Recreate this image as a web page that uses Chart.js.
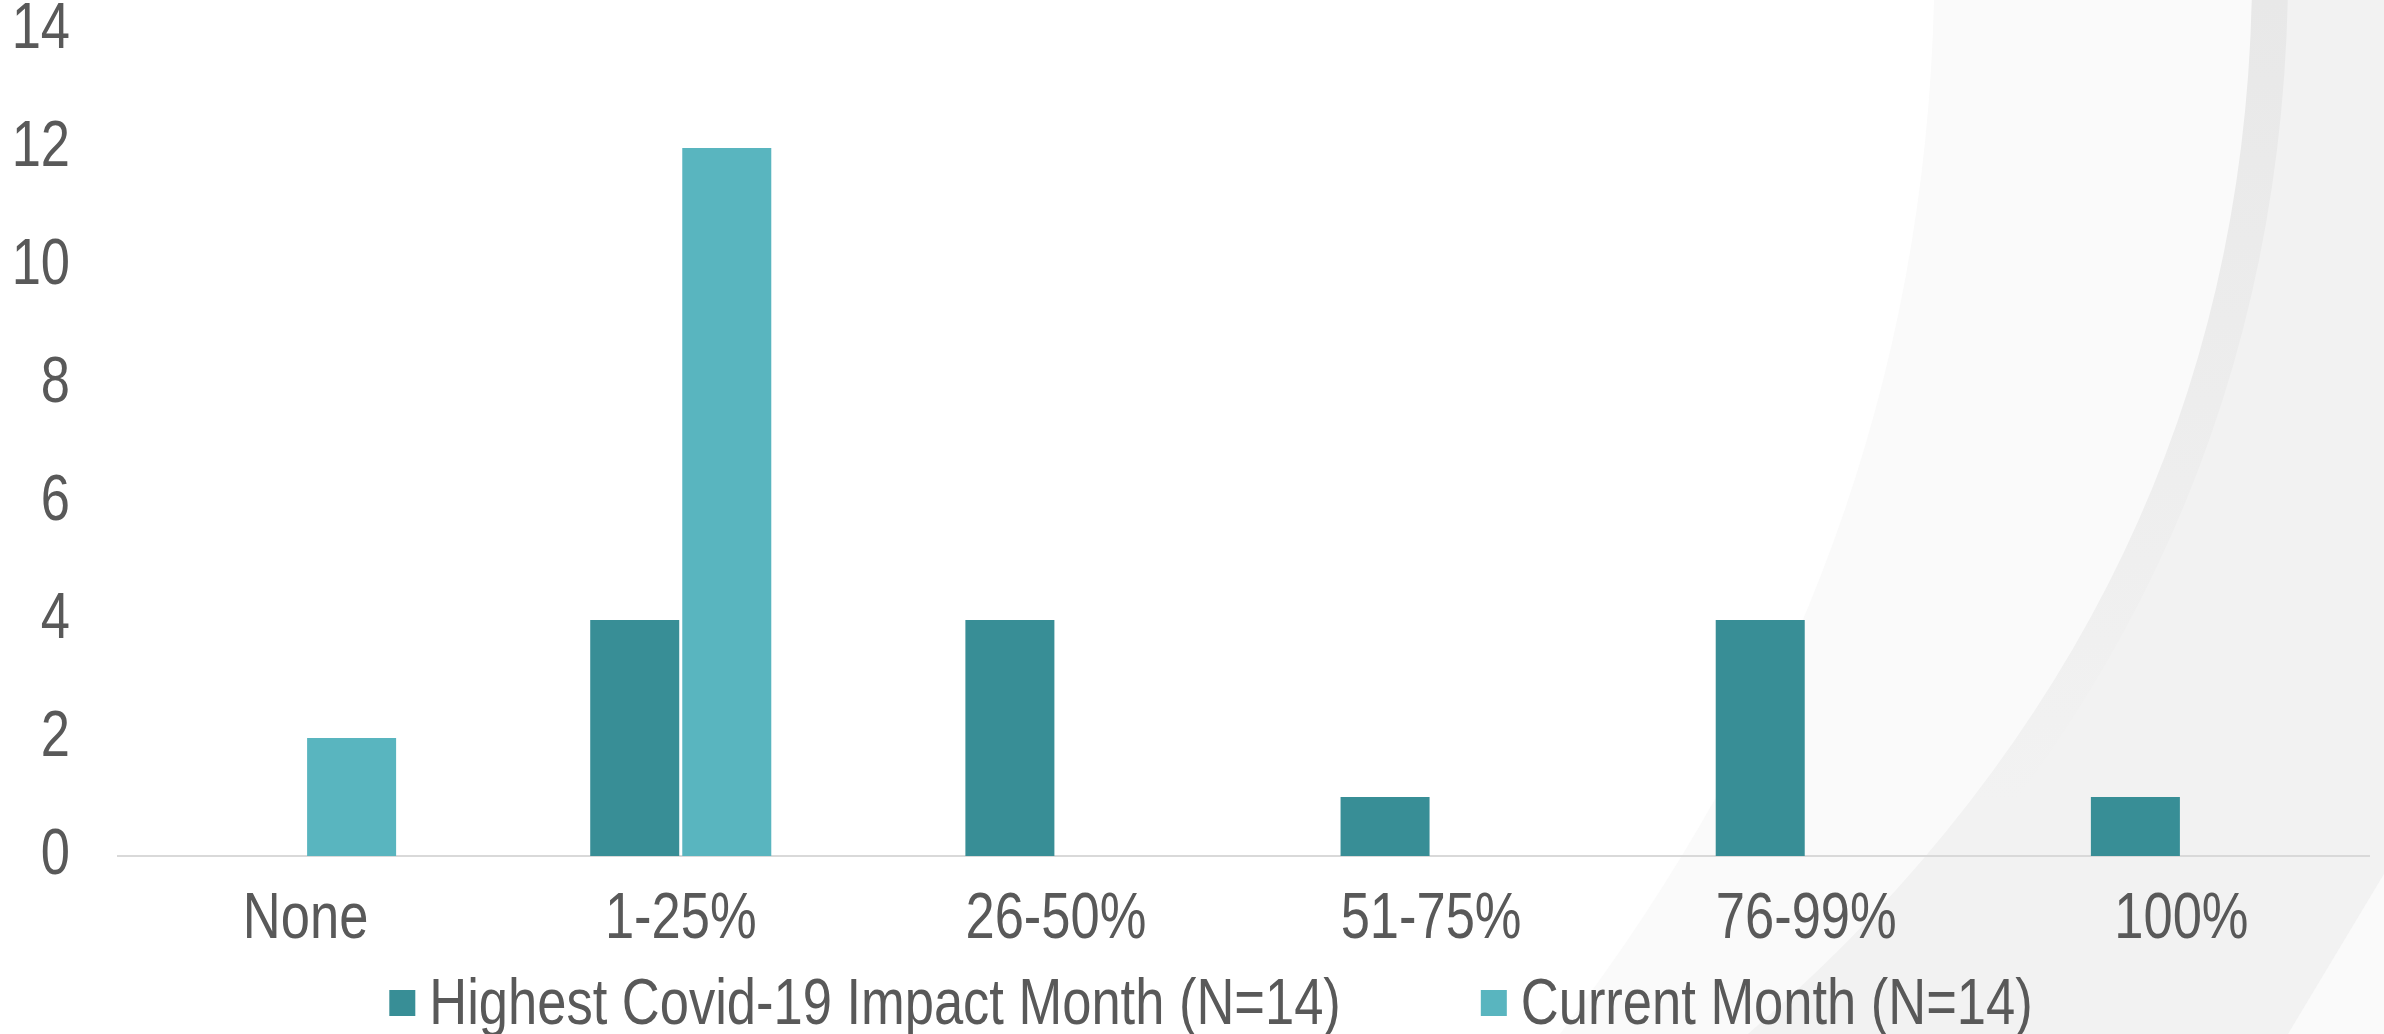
<!DOCTYPE html>
<html>
<head>
<meta charset="utf-8">
<script src="https://cdn.jsdelivr.net/npm/chart.js@4.4.1/dist/chart.umd.min.js"></script>
<style>
    html, body { margin: 0; padding: 0; background: #ffffff; }
    #wrap { width: 2384px; height: 1034px; }
</style>
</head>
<body>
<div id="wrap"><canvas id="chart"></canvas></div>
<script>
// datos
const categories = ['None', '1-25%', '26-50%', '51-75%', '76-99%', '100%'];
const highestImpact = [0, 4, 4, 1, 4, 1];
const currentMonth = [2, 12, 0, 0, 0, 0];
const seriesNames = ['Highest Covid-19 Impact Month (N=14)', 'Current Month (N=14)'];
const yTicks = [0, 2, 4, 6, 8, 10, 12, 14];

const FONT = '"Liberation Sans", Arial, sans-serif';
const FONT_SIZE = 64;
const NARROW = 0.82;   // el original usa una letra estrecha
const TEXT = '#595959';

// texto comprimido en horizontal
function narrowText(ctx, text, x, y, align) {
    ctx.save();
    ctx.translate(x, y);
    ctx.scale(NARROW, 1);
    ctx.textAlign = align;
    ctx.textBaseline = 'middle';
    ctx.fillText(text, 0, 0);
    ctx.restore();
}

// fondo decorativo con curvas grises
const backdrop = {
    id: 'backdrop',
    beforeDraw(chart) {
        const ctx = chart.ctx, w = chart.width, h = chart.height;
        ctx.save();
        ctx.fillStyle = '#ffffff';
        ctx.fillRect(0, 0, w, h);

        ctx.fillStyle = '#fafafa';
        ctx.beginPath();
        ctx.moveTo(1934, 0);
        ctx.bezierCurveTo(1925, 380, 1800, 720, 1560, h);
        ctx.lineTo(w, h);
        ctx.lineTo(w, 0);
        ctx.closePath();
        ctx.fill();

        ctx.fillStyle = '#f2f2f2';
        ctx.beginPath();
        ctx.moveTo(2252, 0);
        ctx.bezierCurveTo(2245, 400, 2080, 750, 1748, h);
        ctx.lineTo(w, h);
        ctx.lineTo(w, 0);
        ctx.closePath();
        ctx.fill();

        const grad = ctx.createLinearGradient(0, 0, 0, 800);
        grad.addColorStop(0, '#e8e8e8');
        grad.addColorStop(1, '#f2f2f2');
        ctx.strokeStyle = grad;
        ctx.lineWidth = 36;
        ctx.beginPath();
        ctx.moveTo(2270, -10);
        ctx.bezierCurveTo(2263, 400, 2098, 750, 1766, h + 10);
        ctx.stroke();

        ctx.fillStyle = '#fafafa';
        ctx.beginPath();
        ctx.moveTo(w, 874);
        ctx.lineTo(w, h);
        ctx.lineTo(2288, h);
        ctx.closePath();
        ctx.fill();
        ctx.restore();
    }
};

// etiquetas de ejes y leyenda con letra estrecha
const labelsAndLegend = {
    id: 'labelsAndLegend',
    afterDraw(chart) {
        const ctx = chart.ctx;
        const xs = chart.scales.x, ys = chart.scales.y;
        ctx.save();
        ctx.font = FONT_SIZE + 'px ' + FONT;
        ctx.fillStyle = TEXT;

        ys.ticks.forEach((t, i) => {
            narrowText(ctx, String(t.value), ys.right - 48, ys.getPixelForTick(i), 'right');
        });
        chart.data.labels.forEach((lab, i) => {
            narrowText(ctx, lab, xs.getPixelForTick(i), xs.top + 26 + FONT_SIZE * 0.6, 'center');
        });

        const box = 26, gap = 14, itemGap = 140, cy = 1003;
        const items = chart.data.datasets.map(ds => ({
            label: ds.label,
            color: ds.backgroundColor,
            w: ctx.measureText(ds.label).width * NARROW
        }));
        const total = items.reduce((s, it) => s + box + gap + it.w, 0) + itemGap * (items.length - 1);
        let x = 1211 - total / 2;
        items.forEach(it => {
            ctx.fillStyle = it.color;
            ctx.fillRect(x, cy - box / 2, box, box);
            ctx.fillStyle = TEXT;
            narrowText(ctx, it.label, x + box + gap, cy + 3, 'left');
            x += box + gap + it.w + itemGap;
        });
        ctx.restore();
    }
};

new Chart(document.getElementById('chart'), {
    type: 'bar',
    data: {
        labels: categories,
        datasets: [{
            label: seriesNames[0],
            data: highestImpact,
            backgroundColor: '#388e96',
            borderWidth: 0
        }, {
            label: seriesNames[1],
            data: currentMonth,
            backgroundColor: '#59b5bf',
            borderWidth: 0
        }]
    },
    options: {
        responsive: true,
        maintainAspectRatio: false,
        animation: false,
        categoryPercentage: 0.4907,
        barPercentage: 0.967,
        layout: { padding: { left: 0, right: 15, top: 30, bottom: 75 } },
        plugins: {
            legend: { display: false },
            tooltip: { enabled: false }
        },
        scales: {
            x: {
                grid: { display: false, drawTicks: false },
                border: { display: true, color: '#d9d9d9', width: 2 },
                ticks: { display: false },
                afterFit(scale) { scale.height = 103; }
            },
            y: {
                min: yTicks[0],
                max: yTicks[yTicks.length - 1],
                grid: { display: false, drawTicks: false },
                border: { display: false },
                ticks: { display: false, stepSize: yTicks[1] - yTicks[0] },
                afterFit(scale) {
                    scale.width = 118;
                    scale.paddingTop = 0;
                    scale.paddingBottom = 0;
                }
            }
        }
    },
    plugins: [backdrop, labelsAndLegend]
});
</script>
</body>
</html>
